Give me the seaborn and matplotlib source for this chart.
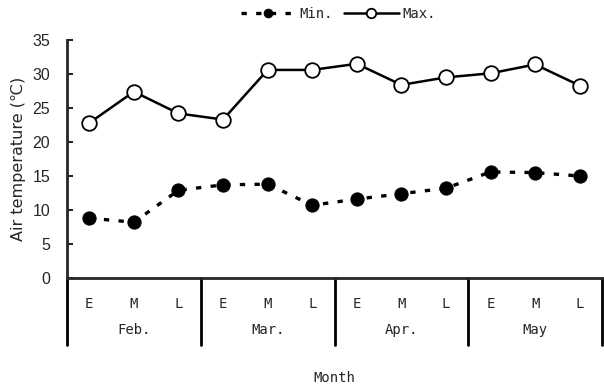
import numpy as np
import pandas as pd
import matplotlib
matplotlib.use("Agg")
import matplotlib.pyplot as plt
import matplotlib.transforms as mtransforms
from matplotlib.lines import Line2D
import seaborn as sns

months = ["Feb.", "Mar.", "Apr.", "May"]
periods = ["E", "M", "L"]
min_temp = [8.8, 8.2, 12.9, 13.7, 13.8, 10.7, 11.6, 12.4, 13.2, 15.6, 15.5, 15.0]
max_temp = [22.8, 27.4, 24.2, 23.3, 30.6, 30.6, 31.5, 28.4, 29.5, 30.1, 31.4, 28.3]
yticks = [0, 5, 10, 15, 20, 25, 30, 35]

sns.set_style("ticks")
plt.rcParams["font.family"] = ["DejaVu Sans"]

labels = [p for m in months for p in periods]
idx = np.arange(len(labels))
df = pd.DataFrame({"idx": idx, "Min.": min_temp, "Max.": max_temp})

fig = plt.figure(figsize=(6.04, 3.87), dpi=100)
ax = fig.add_axes([67 / 604, 109 / 387, 535 / 604, 238 / 387])

sns.lineplot(data=df, x="idx", y="Min.", ax=ax, color="black", lw=2.4,
             linestyle=(0, (1.6, 2.8)), marker="o", markersize=9.5,
             markerfacecolor="black", markeredgecolor="black", label="Min.")
sns.lineplot(data=df, x="idx", y="Max.", ax=ax, color="black", lw=1.8,
             marker="o", markersize=10.5, markerfacecolor="white",
             markeredgecolor="black", markeredgewidth=1.3, label="Max.")

ax.set_xlim(-0.5, len(labels) - 0.5)
ax.set_ylim(0, 35)
ax.set_yticks(yticks)
ax.set_yticklabels([str(v) for v in yticks], fontsize=11.5,
                   family=["Liberation Sans"])
ax.tick_params(axis="y", direction="in", length=4, width=1.5, pad=12)
ax.set_xticks(idx)
ax.set_xticklabels(labels, fontsize=10, family=["DejaVu Sans Mono"])
ax.tick_params(axis="x", length=0, pad=14)

for s in ["top", "right"]:
    ax.spines[s].set_visible(False)
ax.spines["left"].set_linewidth(2)
ax.spines["bottom"].set_linewidth(2)

trans = mtransforms.blended_transform_factory(ax.transData, ax.transAxes)
for i in range(len(months) + 1):
    xs = i * 3 - 0.5
    ax.add_line(Line2D([xs, xs], [0, -0.28], transform=trans, color="black",
                       lw=2, clip_on=False))
for i, m in enumerate(months):
    ax.text(i * 3 + 1, -0.22, m, transform=trans, ha="center", va="center",
            fontsize=10, family=["DejaVu Sans Mono"])

ax.set_xlabel("")
ax.text(0.5, -0.42, "Month", transform=ax.transAxes, ha="center", va="center",
        fontsize=10, family=["DejaVu Sans Mono"])
ax.set_ylabel("Air temperature (℃)", fontsize=11.5, labelpad=5)

ax.get_legend().remove()
h, l = ax.get_legend_handles_labels()
fig.legend(h, l, loc="center", bbox_to_anchor=(338 / 604, 1 - 14 / 387),
           ncol=2, frameon=False, handlelength=4, markerscale=0.65,
           columnspacing=0.8, handletextpad=0.2,
           prop={"family": "DejaVu Sans Mono", "size": 10})

fig.savefig("out.png", dpi=100)
